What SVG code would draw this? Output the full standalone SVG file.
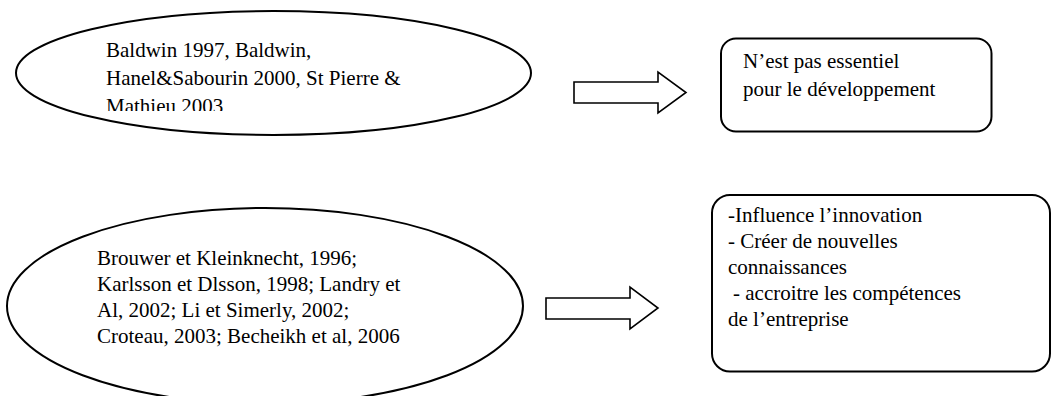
<svg xmlns="http://www.w3.org/2000/svg" width="1051" height="396" viewBox="0 0 1051 396">
<style>
.shape{fill:#fff;stroke:#000;stroke-width:2}
.arrow{fill:#fff;stroke:#000;stroke-width:1.6;stroke-linejoin:miter}
.t{font-family:"Liberation Serif","Times New Roman",serif;font-size:21px;fill:#000}
</style>
<defs>
<clipPath id="clip1"><rect x="0" y="0" width="1051" height="111"/></clipPath>
</defs>
<rect width="1051" height="396" fill="#fff"/>
<g id="node-ellipse1">
<ellipse class="shape" cx="273.5" cy="73" rx="257.5" ry="62"/>
<g clip-path="url(#clip1)">
<text class="t" x="106" y="57">Baldwin 1997, Baldwin,</text>
<text class="t" x="106" y="85">Hanel&amp;Sabourin 2000, St Pierre &amp;</text>
<text class="t" x="106" y="113">Mathieu 2003</text>
</g>
</g>
<g id="node-box1">
<rect class="shape" x="721" y="38.5" width="270.5" height="93" rx="15" ry="15"/>
<text class="t" x="743" y="68">N’est pas essentiel</text>
<text class="t" x="743" y="96">pour le développement</text>
</g>
<g id="node-ellipse2">
<ellipse class="shape" cx="265" cy="306" rx="258" ry="98"/>
<text class="t" x="97" y="265">Brouwer et Kleinknecht, 1996;</text>
<text class="t" x="97" y="291">Karlsson et Dlsson, 1998; Landry et</text>
<text class="t" x="97" y="317">Al, 2002; Li et Simerly, 2002;</text>
<text class="t" x="97" y="343">Croteau, 2003; Becheikh et al, 2006</text>
</g>
<g id="node-box2">
<rect class="shape" x="712" y="195" width="338" height="176.5" rx="18" ry="18"/>
<text class="t" x="728" y="222">-Influence l’innovation</text>
<text class="t" x="728" y="248">- Créer de nouvelles</text>
<text class="t" x="728" y="274">connaissances</text>
<text class="t" x="733" y="300">- accroitre les compétences</text>
<text class="t" x="728" y="326">de l’entreprise</text>
</g>
<g id="connectors">
<polygon class="arrow" points="574,82 658,82 658,72 686,92.5 658,113 658,103 574,103"/>
<polygon class="arrow" points="546,298 630,298 630,287 658,308 630,329 630,319 546,319"/>
</g>
</svg>
